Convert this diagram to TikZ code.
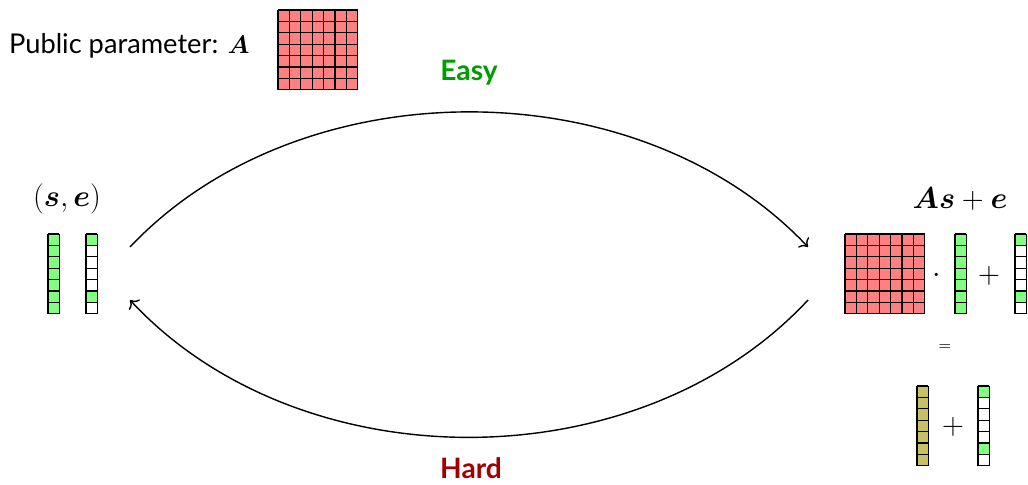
\documentclass[tikz,border=0pt]{standalone}
\usepackage{fontspec}
\setmainfont{Lato}
\usepackage{amsmath}
\usetikzlibrary{arrows.meta,positioning}

\definecolor{easygreen}{RGB}{0,155,0}
\definecolor{hardred}{RGB}{160,0,0}

\tikzset{
  cell/.style={draw=black,line width=0.75pt},
  arc/.style={thick,-{To[length=4pt]}},
  lbl/.style={font=\fontsize{16}{19}\selectfont,inner sep=1pt}
}

\newcommand{\cs}{11.4}
% 7x7 matrix, top-left corner at (#1,#2)
\newcommand{\matblock}[2]{%
  \fill[red!50] (#1,#2) rectangle ++(7*\cs,7*\cs);
  \foreach \k in {0,...,7} {
    \draw[cell] (#1+\k*\cs,#2) -- ++(0,7*\cs);
    \draw[cell] (#1,#2+\k*\cs) -- ++(7*\cs,0);}}
% column vector, top-left corner at (#1,#2), fill colours #3
\newcommand{\vecblock}[3]{%
  \foreach \c [count=\j from 0] in {#3} {
    \fill[\c] (#1,#2+\j*\cs) rectangle ++(\cs,\cs);}
  \foreach \k in {0,...,7} {
    \draw[cell] (#1,#2+\k*\cs) -- ++(\cs,0);}
  \draw[cell] (#1,#2) -- ++(0,7*\cs);
  \draw[cell] (#1+\cs,#2) -- ++(0,7*\cs);}

\begin{document}
\begin{tikzpicture}[x=0.02cm,y=-0.02cm]
\useasboundingbox (0,0) rectangle (1028,484);

% public parameter
\node[lbl,font=\fontsize{15.5}{18}\selectfont,anchor=west] (pub) at (7,46) {Public parameter: $\boldsymbol{A}$};
\matblock{278}{10}

% secret side
\node[lbl] (se) at (67,199) {$(\boldsymbol{s},\boldsymbol{e})$};
\vecblock{48}{234}{green!50,green!50,green!50,green!50,green!50,green!50,green!50}
\vecblock{86}{234}{green!50,white,white,white,white,green!50,white}

% public side
\node[lbl] (ase) at (960,199) {$\boldsymbol{A}\boldsymbol{s}+\boldsymbol{e}$};
\matblock{845}{234}
\node[lbl] (dot) at (937,276) {$\cdot$};
\vecblock{955}{234}{green!50,green!50,green!50,green!50,green!50,green!50,green!50}
\node[lbl] (plus1) at (989,276) {$+$};
\vecblock{1015}{234}{green!50,white,white,white,white,green!50,white}
\node[lbl,font=\small] (eq) at (945,348) {$=$};
\vecblock{917}{386}{olive!50,olive!50,olive!50,olive!50,olive!50,olive!50,olive!50}
\node[lbl] (plus2) at (953,427) {$+$};
\vecblock{978}{386}{green!50,white,white,white,white,green!50,white}

% connector ends
\coordinate (lt) at (130,247);
\coordinate (rt) at (808,247);
\coordinate (rb) at (808,300);
\coordinate (lb) at (130,300);

\draw[arc] (lt) .. controls (300,67) and (638,67) .. (rt);
\draw[arc] (rb) .. controls (638,483) and (300,483) .. (lb);

\node[lbl,font=\bfseries\fontsize{16}{19}\selectfont,text=easygreen] (easy) at (469,73) {Easy};
\node[lbl,font=\bfseries\fontsize{16}{19}\selectfont,text=hardred] (hard) at (471,468) {Hard};
\end{tikzpicture}
\end{document}
